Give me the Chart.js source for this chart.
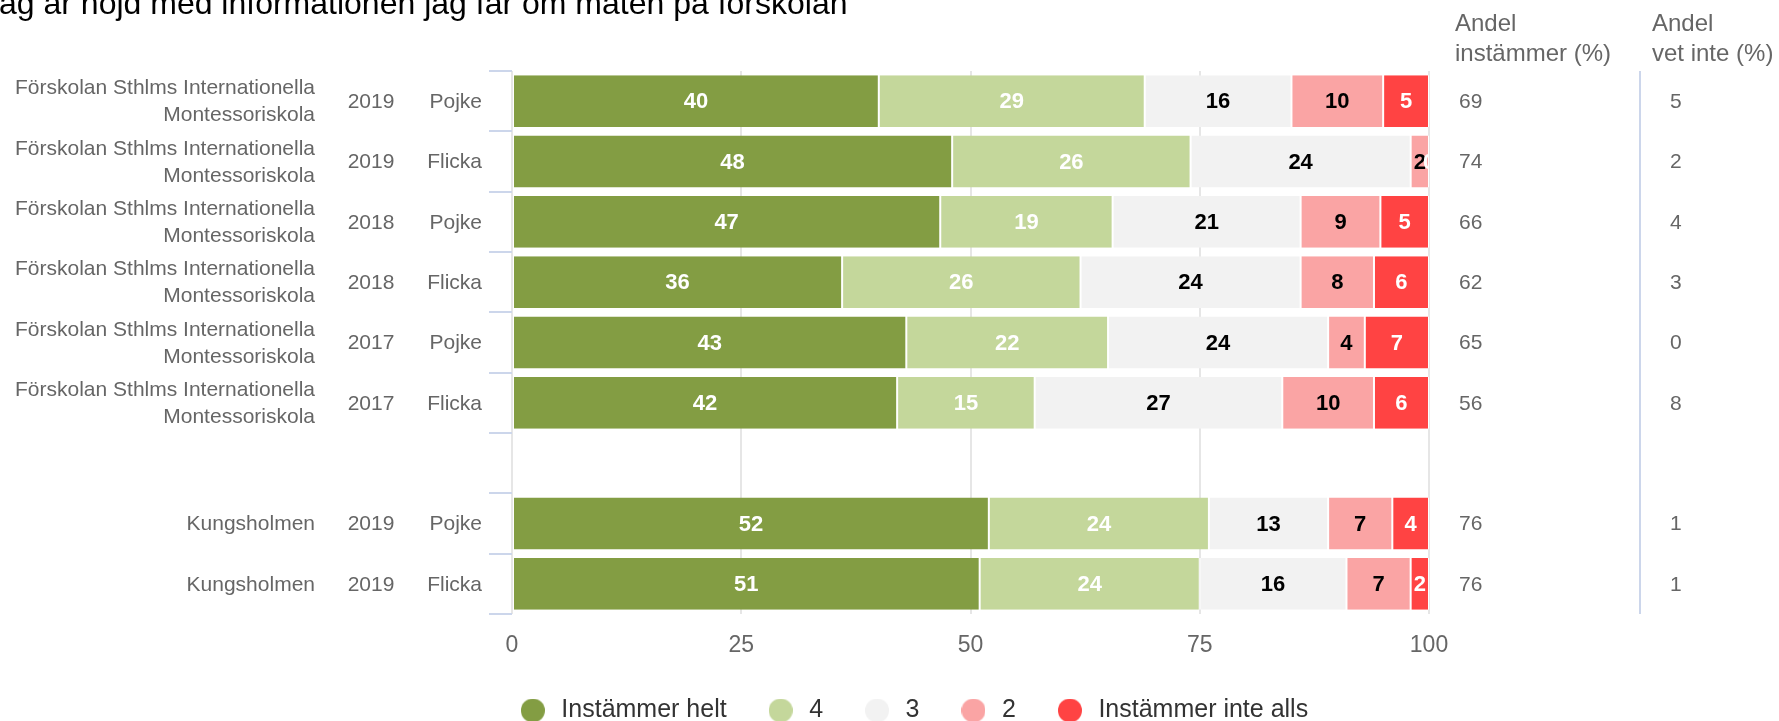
<!DOCTYPE html>
<html lang="sv">
<head>
<meta charset="utf-8">
<title>Jag är nöjd med informationen jag får om maten på förskolan</title>
<script src="https://cdn.jsdelivr.net/npm/chart.js@4.4.1/dist/chart.umd.min.js"></script>
<style>
	body { margin: 0; background: #fff; }
	#wrap { width: 1779px; height: 721px; }
</style>
</head>
<body>
<div id="wrap"><canvas id="chart" width="1779" height="721"></canvas></div>
<script>
const chartTitle = 'Jag är nöjd med informationen jag får om maten på förskolan';

// one entry per row, the empty row separates the two schools
const schools = [
	'Förskolan Sthlms Internationella Montessoriskola',
	'Förskolan Sthlms Internationella Montessoriskola',
	'Förskolan Sthlms Internationella Montessoriskola',
	'Förskolan Sthlms Internationella Montessoriskola',
	'Förskolan Sthlms Internationella Montessoriskola',
	'Förskolan Sthlms Internationella Montessoriskola',
	'',
	'Kungsholmen',
	'Kungsholmen'
];
const years = ['2019', '2019', '2018', '2018', '2017', '2017', '', '2019', '2019'];
const genders = ['Pojke', 'Flicka', 'Pojke', 'Flicka', 'Pojke', 'Flicka', '', 'Pojke', 'Flicka'];

const instammerHelt = [40, 48, 46.7, 36, 43, 42, null, 52, 51];
const svar4 = [29, 26, 18.8, 26, 22, 15, null, 24, 24];
const svar3 = [16, 24, 20.5, 24, 24, 27, null, 13, 16];
const svar2 = [10, 2, 8.7, 8, 4, 10, null, 7, 7];
const instammerInteAlls = [5, 0, 5.3, 6, 7, 6, null, 4, 2];

const andelInstammer = [69, 74, 66, 62, 65, 56, null, 76, 76];
const andelVetInte = [5, 2, 4, 3, 0, 8, null, 1, 1];

const seriesNames = ['Instämmer helt', '4', '3', '2', 'Instämmer inte alls'];
const seriesColors = ['#839d43', '#c4d79b', '#f2f2f2', '#faa4a4', '#ff4343'];
const labelColors = ['#ffffff', '#ffffff', '#000000', '#000000', '#ffffff'];

const xTicks = [0, 25, 50, 75, 100];
const headerInstammer = ['Andel', 'instämmer (%)'];
const headerVetInte = ['Andel', 'vet inte (%)'];

const FONT = '"Liberation Sans", Arial, sans-serif';
Chart.defaults.font.family = FONT;
Chart.defaults.color = '#666666';

function legendDot(color) {
	const c = document.createElement('canvas');
	c.width = 24;
	c.height = 24;
	const g = c.getContext('2d');
	g.fillStyle = color;
	g.beginPath();
	g.arc(12, 12, 12, 0, Math.PI * 2);
	g.fill();
	return c;
}

function wrapText(ctx, text, maxWidth) {
	const words = text.split(' ');
	const lines = [];
	let line = '';
	words.forEach(w => {
		const test = line ? line + ' ' + w : w;
		if (line && ctx.measureText(test).width > maxWidth) {
			lines.push(line);
			line = w;
		} else
			line = test;
	});
	if (line)
		lines.push(line);
	return lines;
}

// labels inside the bar segments
const barLabels = {
	id: 'barLabels',
	afterDatasetsDraw(chart) {
		const ctx = chart.ctx;
		const area = chart.chartArea;
		ctx.save();
		ctx.beginPath();
		ctx.rect(area.left, area.top, area.right - area.left, area.bottom - area.top);
		ctx.clip();
		ctx.font = 'bold 22px ' + FONT;
		ctx.textAlign = 'center';
		ctx.textBaseline = 'middle';
		chart.data.datasets.forEach((ds, i) => {
			const meta = chart.getDatasetMeta(i);
			meta.data.forEach((bar, j) => {
				const v = ds.data[j];
				if (v === null || v === undefined)
					return;
				ctx.fillStyle = labelColors[i];
				ctx.fillText(String(Math.round(v)), (bar.x + bar.base) / 2, bar.y + 1);
			});
		});
		ctx.restore();
	}
};

// title, row labels on the left, share columns on the right
const sideTexts = {
	id: 'sideTexts',
	afterDraw(chart) {
		const ctx = chart.ctx;
		const area = chart.chartArea;
		const y = chart.scales.y;
		ctx.save();

		ctx.fillStyle = '#000000';
		ctx.font = '32px ' + FONT;
		ctx.textAlign = 'left';
		ctx.textBaseline = 'alphabetic';
		ctx.fillText(chartTitle, -17, 14);

		ctx.fillStyle = '#666666';
		ctx.font = '21px ' + FONT;
		ctx.textBaseline = 'middle';
		schools.forEach((school, j) => {
			const cy = y.getPixelForValue(j) + 1;
			const lines = wrapText(ctx, school, 310);
			ctx.textAlign = 'right';
			lines.forEach((line, k) => {
				ctx.fillText(line, area.left - 197, cy + (k - (lines.length - 1) / 2) * 27);
			});
			ctx.textAlign = 'center';
			ctx.fillText(years[j], area.left - 141, cy);
			ctx.textAlign = 'right';
			ctx.fillText(genders[j], area.left - 30, cy);

			ctx.textAlign = 'left';
			if (andelInstammer[j] !== null)
				ctx.fillText(String(andelInstammer[j]), area.right + 30, cy);
			if (andelVetInte[j] !== null)
				ctx.fillText(String(andelVetInte[j]), area.right + 241, cy);
		});

		ctx.font = '24px ' + FONT;
		ctx.textAlign = 'left';
		headerInstammer.forEach((t, k) => ctx.fillText(t, area.right + 26, 24 + k * 30));
		headerVetInte.forEach((t, k) => ctx.fillText(t, area.right + 223, 24 + k * 30));

		// separator between the two share columns
		ctx.strokeStyle = '#ccd6eb';
		ctx.lineWidth = 2;
		ctx.beginPath();
		ctx.moveTo(area.right + 211, area.top);
		ctx.lineTo(area.right + 211, area.bottom);
		ctx.stroke();
		ctx.restore();
	}
};

const seriesData = [instammerHelt, svar4, svar3, svar2, instammerInteAlls];

new Chart(document.getElementById('chart'), {
	type: 'bar',
	data: {
		labels: schools.map((s, j) => `${s} ${years[j]} ${genders[j]}`),
		datasets: seriesData.map((d, i) => ({
			label: seriesNames[i],
			data: d,
			backgroundColor: seriesColors[i],
			borderColor: '#ffffff',
			borderWidth: {left: 1, right: 1, top: 0, bottom: 0},
			borderSkipped: false,
			categoryPercentage: 1,
			barPercentage: 0.86
		}))
	},
	options: {
		indexAxis: 'y',
		responsive: false,
		devicePixelRatio: 1,
		animation: false,
		layout: {padding: {left: 46, right: 0, top: 71, bottom: -12}},
		scales: {
			x: {
				stacked: true,
				min: 0,
				max: 100,
				afterBuildTicks: s => { s.ticks = xTicks.map(v => ({value: v})); },
				afterFit: s => { s.height = 46; },
				ticks: {color: '#666666', font: {size: 23}, padding: 18},
				grid: {color: '#e6e6e6', lineWidth: 2, drawTicks: false},
				border: {display: false}
			},
			y: {
				stacked: true,
				afterFit: s => { s.width = 466; },
				ticks: {display: false},
				grid: {offset: true, drawOnChartArea: false, drawTicks: true, tickLength: 23, color: '#ccd6eb', lineWidth: 2},
				border: {display: false}
			},
			y2: {
				position: 'right',
				afterFit: s => { s.width = 350; },
				ticks: {display: false},
				grid: {display: false},
				border: {display: false}
			}
		},
		plugins: {
			legend: {
				position: 'bottom',
				labels: {
					usePointStyle: true,
					pointStyleWidth: 32,
					padding: 38,
					color: '#333333',
					font: {size: 25},
					generateLabels(chart) {
						const items = Chart.defaults.plugins.legend.labels.generateLabels(chart);
						items.forEach(it => { it.pointStyle = legendDot(seriesColors[it.datasetIndex]); });
						return items;
					}
				}
			},
			tooltip: {enabled: false}
		}
	},
	plugins: [barLabels, sideTexts]
});
</script>
</body>
</html>
